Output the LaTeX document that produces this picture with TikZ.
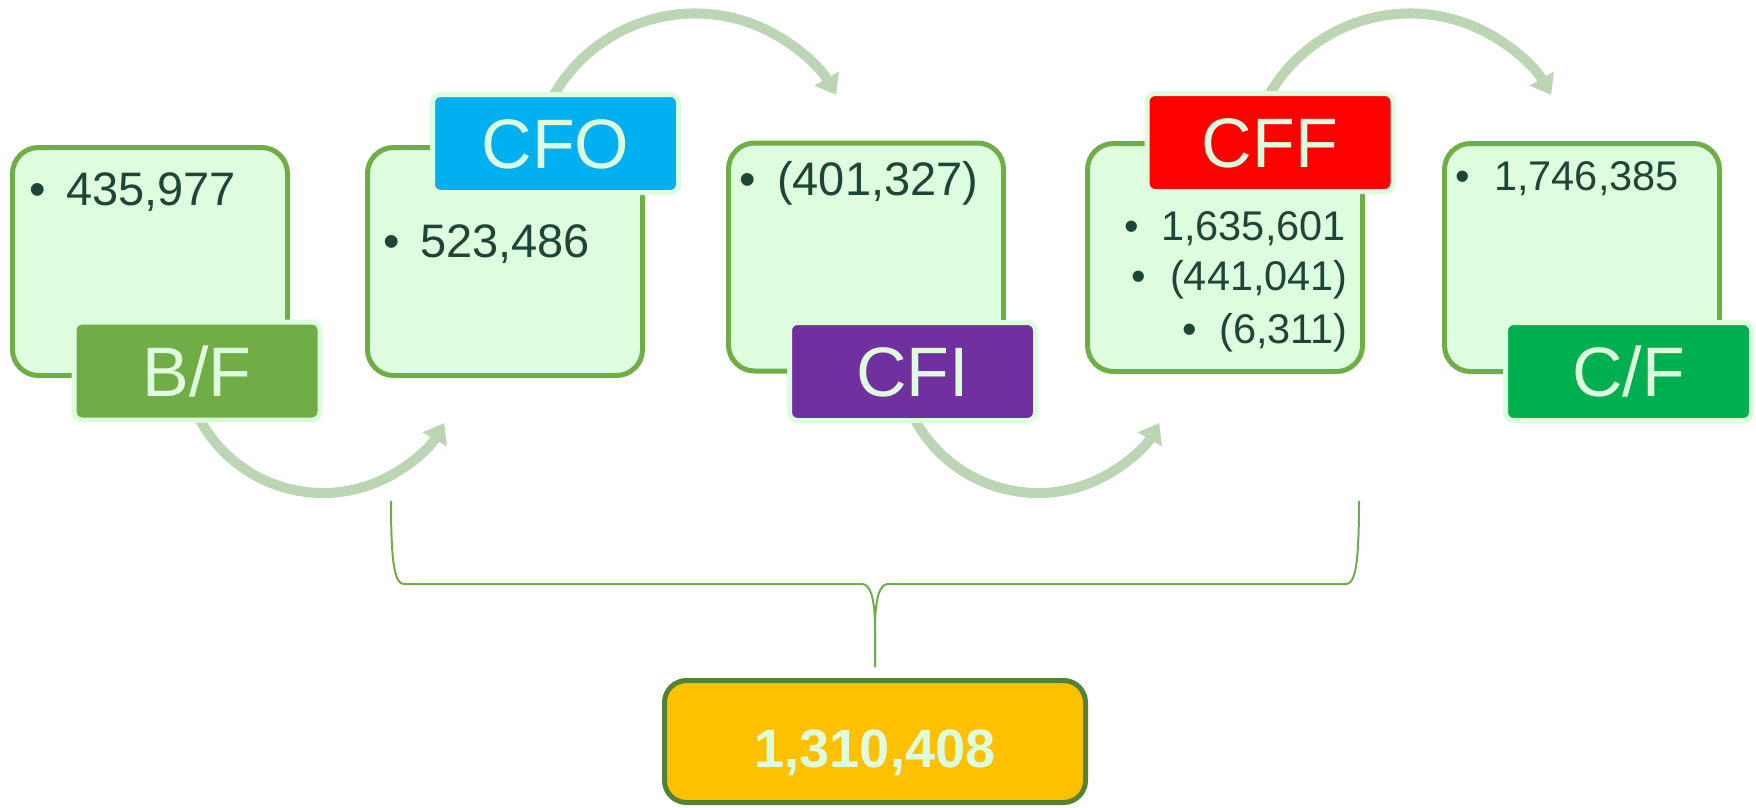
\documentclass[tikz,border=0pt]{standalone}
\usepackage{fontspec}
\setmainfont{Liberation Sans}
\usetikzlibrary{arrows.meta}
\definecolor{boxfill}{HTML}{DEFDDE}
\definecolor{boxgreen}{HTML}{70AD47}
\definecolor{textdark}{HTML}{1D4636}
\definecolor{arrowcol}{HTML}{BCD5B4}
\definecolor{cfoblue}{HTML}{00B0F0}
\definecolor{cfipurple}{HTML}{7030A0}
\definecolor{cffred}{HTML}{FF0000}
\definecolor{cfgreen}{HTML}{00B050}
\definecolor{totfill}{HTML}{FFC000}
\definecolor{totborder}{HTML}{548235}
\tikzset{
  mainbox/.style={draw=boxgreen, line width=5pt, fill=boxfill, rounded corners=26pt,
    minimum width=275pt, minimum height=228pt, inner sep=0pt},
  labbox/.style={draw=boxfill, line width=5pt, rounded corners=8pt,
    minimum width=246pt, minimum height=98pt, inner sep=0pt,
    text=boxfill, font=\fontsize{70}{80}\selectfont, text height=50pt, text depth=0pt},
  bigtxt/.style={text=textdark, inner sep=0pt, font=\fontsize{47}{56}\selectfont},
  smalltxt/.style={text=textdark, inner sep=0pt, font=\fontsize{41.5}{50}\selectfont},
  flowarrow/.style={draw=arrowcol, line width=10pt, -{Triangle[width=27pt,length=19pt]}},
  bracestyle/.style={draw=boxgreen, line width=2pt},
  totbox/.style={draw=totborder, line width=5pt, fill=totfill, rounded corners=22pt,
    minimum width=421pt, minimum height=122pt, inner sep=0pt}
}
\begin{document}
\begin{tikzpicture}[x=1pt,y=1pt]
\useasboundingbox (0,0) rectangle (1756,-808);

% arrows (behind everything)
\coordinate (c1) at (323,-353);
\coordinate (c2) at (695,-176.5);
\coordinate (c3) at (1038,-353);
\coordinate (c4) at (1410,-176.5);
\draw[flowarrow] ([shift={(205:140)}]c1) arc[start angle=205, end angle=330, radius=140];
\draw[flowarrow] ([shift={(155:163)}]c2) arc[start angle=155, end angle=30, radius=163];
\draw[flowarrow] ([shift={(205:140)}]c3) arc[start angle=205, end angle=330, radius=140];
\draw[flowarrow] ([shift={(155:163)}]c4) arc[start angle=155, end angle=30, radius=163];

% main boxes
\node[mainbox] (bf) at (150,-261.5) {};
\node[mainbox] (cfo) at (505,-261.5) {};
\node[mainbox] (cfi) at (866,-257) {};
\node[mainbox] (cff) at (1225,-257.5) {};
\node[mainbox] (cf) at (1582,-257.5) {};

% bullet texts
\node[bigtxt, anchor=base] (b1) at (38,-205) {•};
\node[bigtxt, anchor=base west] (t1) at (66,-205) {435,977};
\node[bigtxt, anchor=base] (b2) at (392,-257) {•};
\node[bigtxt, anchor=base west] (t2) at (420,-257) {523,486};
\node[bigtxt, anchor=base] (b3) at (748,-195) {•};
\node[bigtxt, anchor=base west] (t3) at (777,-195) {(401,327)};
\node[smalltxt, anchor=base] (b4a) at (1132,-240) {•};
\node[smalltxt, anchor=base east] (t4a) at (1346,-240) {1,635,601};
\node[smalltxt, anchor=base] (b4b) at (1139,-290) {•};
\node[smalltxt, anchor=base east] (t4b) at (1348,-290) {(441,041)};
\node[smalltxt, anchor=base] (b4c) at (1190,-343) {•};
\node[smalltxt, anchor=base east] (t4c) at (1348,-343) {(6,311)};
\node[smalltxt, anchor=base] (b5) at (1463,-190) {•};
\node[smalltxt, anchor=base west] (t5) at (1494,-190) {1,746,385};

% labels
\node[labbox, fill=boxgreen] (lbf) at (197,-371) {B/F};
\node[labbox, fill=cfoblue] (lcfo) at (555.5,-143.5) {CFO};
\node[labbox, fill=cfipurple] (lcfi) at (912.5,-371.5) {CFI};
\node[labbox, fill=cffred] (lcff) at (1270,-142.5) {CFF};
\node[labbox, fill=cfgreen] (lcf) at (1628.5,-371.5) {C/F};

% brace
\coordinate (bl) at (391,-501);
\coordinate (br) at (1359,-501);
\coordinate (btip) at (875,-667);
\draw[bracestyle] (bl) .. controls (391,-566) and (395,-584) .. (404,-584)
  -- (862,-584) .. controls (871,-584) and (875,-600) .. (875,-630) -- (btip);
\draw[bracestyle] (br) .. controls (1359,-566) and (1355,-584) .. (1346,-584)
  -- (888,-584) .. controls (879,-584) and (875,-600) .. (875,-630) -- (btip);

% total box
\node[totbox] (tot) at (875,-741.5) {};
\node[text=boxfill, inner sep=0pt, anchor=base, font=\fontsize{54}{64}\selectfont\bfseries] (tottxt) at (875,-767) {1,310,408};
\end{tikzpicture}
\end{document}
